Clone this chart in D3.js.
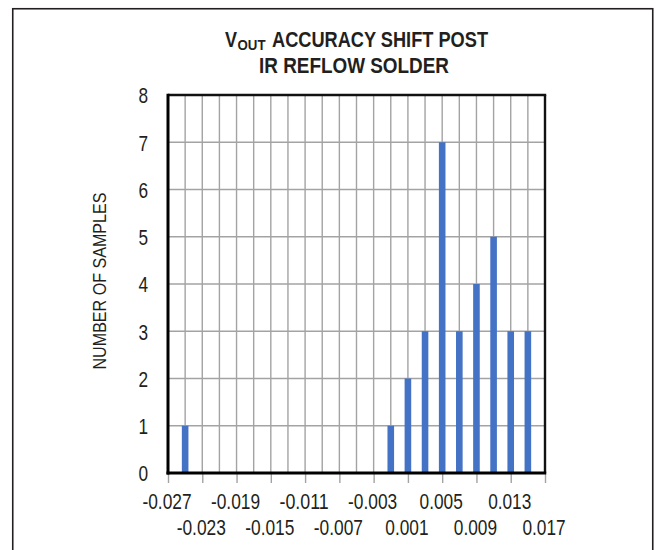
<!DOCTYPE html>
<html>
<head>
<meta charset="utf-8">
<script src="https://cdn.jsdelivr.net/npm/d3@7"></script>
<style>
  html, body { margin: 0; padding: 0; background: #fff; }
  svg { display: block; }
  text { font-family: "Liberation Sans", Arial, sans-serif; fill: #231f20; }
</style>
</head>
<body>
<svg id="chart" width="656" height="550"></svg>
<script>
// Histogram bins: output-voltage shift (bin centres) and sample counts
const binCenters = [-0.025, -0.001, 0.001, 0.003, 0.005, 0.007, 0.009, 0.011, 0.013, 0.015];
const sampleCounts = [1, 1, 2, 3, 7, 3, 4, 5, 3, 3];

// Labelled x ticks (every 0.004) and y ticks
const xTickValues = [-0.027, -0.023, -0.019, -0.015, -0.011, -0.007, -0.003, 0.001, 0.005, 0.009, 0.013, 0.017];
const yTickValues = [0, 1, 2, 3, 4, 5, 6, 7, 8];
// Vertical grid lines every 0.002
const xGridValues = d3.range(0, 23).map(i => +(-0.027 + i * 0.002).toFixed(3));

const svg = d3.select("#chart");

// Condensed look: squeeze each label to a fixed advance per character
const narrowWidth = s => Array.from(s).reduce((w, c) =>
  w + (c === "-" ? 6 : c === "." ? 4.8 : 9.6), 0);

// Outer frame (open at the bottom edge of the page)
svg.append("rect")
  .attr("x", 12.75).attr("y", 8.75)
  .attr("width", 640).attr("height", 600)
  .attr("fill", "none").attr("stroke", "#231f20").attr("stroke-width", 1.6);

const plot = { left: 168, right: 545, top: 95, bottom: 473 };

const x = d3.scaleLinear().domain([-0.027, 0.017]).range([plot.left, plot.right]);
const y = d3.scaleLinear().domain([0, 8]).range([plot.bottom, plot.top]);

// Grid
const grid = svg.append("g").attr("stroke", "#a3a3a3").attr("stroke-width", 1.4);
grid.selectAll("line.v").data(xGridValues).join("line")
  .attr("class", "v")
  .attr("x1", d => x(d)).attr("x2", d => x(d))
  .attr("y1", plot.top).attr("y2", plot.bottom);
grid.selectAll("line.h").data(yTickValues).join("line")
  .attr("class", "h")
  .attr("x1", plot.left).attr("x2", plot.right)
  .attr("y1", d => y(d)).attr("y2", d => y(d));

// Bars
const barW = 6.6;
svg.append("g").selectAll("rect").data(binCenters).join("rect")
  .attr("x", d => x(d) - barW / 2)
  .attr("width", barW)
  .attr("y", (d, i) => y(sampleCounts[i]))
  .attr("height", (d, i) => y(0) - y(sampleCounts[i]))
  .attr("fill", "#4472c4");

// Plot border: top and right edges
svg.append("line").attr("x1", plot.left).attr("x2", plot.right + 1.2)
  .attr("y1", plot.top).attr("y2", plot.top)
  .attr("stroke", "#111").attr("stroke-width", 2.4);
svg.append("line").attr("x1", plot.right).attr("x2", plot.right)
  .attr("y1", plot.top).attr("y2", plot.bottom)
  .attr("stroke", "#111").attr("stroke-width", 2.4);

// X axis with tick marks below the axis line
const xAxis = d3.axisBottom(x)
  .tickValues(xTickValues)
  .tickSize(10)
  .tickFormat("");
const xg = svg.append("g").attr("transform", `translate(0,${plot.bottom})`).call(xAxis);
xg.select(".domain").remove();
xg.selectAll(".tick line").attr("stroke", "#a3a3a3").attr("stroke-width", 1.4);

// Tick labels alternate between two rows
const fmt = d => d3.format(".3f")(d).replace("−", "-");
svg.append("g").selectAll("text").data(xTickValues).join("text")
  .attr("x", d => x(d) - 1)
  .attr("y", (d, i) => i % 2 === 0 ? 509 : 535)
  .attr("text-anchor", "middle")
  .attr("font-size", 21.5)
  .attr("textLength", d => narrowWidth(fmt(d)))
  .attr("lengthAdjust", "spacingAndGlyphs")
  .text(fmt);

// Y axis labels
const yAxis = d3.axisLeft(y).tickValues(yTickValues).tickSize(0).tickPadding(20).tickFormat(d3.format("d"));
const yg = svg.append("g").attr("transform", `translate(${plot.left},0)`).call(yAxis);
yg.select(".domain").remove();
yg.selectAll("text")
  .attr("font-size", 21.5).attr("font-family", null).attr("fill", "#231f20")
  .attr("dy", "0.36em")
  .attr("textLength", 9.6).attr("lengthAdjust", "spacingAndGlyphs");

// Heavy axis lines
svg.append("line").attr("x1", plot.left).attr("x2", plot.left)
  .attr("y1", plot.top - 1.2).attr("y2", plot.bottom + 1.5)
  .attr("stroke", "#000").attr("stroke-width", 3);
svg.append("line").attr("x1", plot.left - 1.5).attr("x2", plot.right + 1.2)
  .attr("y1", plot.bottom).attr("y2", plot.bottom)
  .attr("stroke", "#000").attr("stroke-width", 3);

// Y axis title
svg.append("text")
  .attr("transform", `translate(105.5,${(plot.top + plot.bottom) / 2 - 3}) rotate(-90)`)
  .attr("text-anchor", "middle")
  .attr("font-size", 19)
  .attr("textLength", 177).attr("lengthAdjust", "spacingAndGlyphs")
  .text("NUMBER OF SAMPLES");

// Chart title: V with OUT subscript, then the rest of the first line
const titleG = svg.append("g").attr("font-weight", "bold");
titleG.append("text")
  .attr("x", 225).attr("y", 47).attr("font-size", 21.5)
  .attr("textLength", 12).attr("lengthAdjust", "spacingAndGlyphs")
  .text("V");
titleG.append("text")
  .attr("x", 237.5).attr("y", 49.5).attr("font-size", 15)
  .attr("textLength", 28).attr("lengthAdjust", "spacingAndGlyphs")
  .text("OUT");
titleG.append("text")
  .attr("x", 272).attr("y", 47).attr("font-size", 21.5)
  .attr("textLength", 216).attr("lengthAdjust", "spacingAndGlyphs")
  .text("ACCURACY SHIFT POST");
titleG.append("text")
  .attr("x", 259).attr("y", 73).attr("font-size", 21.5)
  .attr("textLength", 190).attr("lengthAdjust", "spacingAndGlyphs")
  .text("IR REFLOW SOLDER");
</script>
</body>
</html>
